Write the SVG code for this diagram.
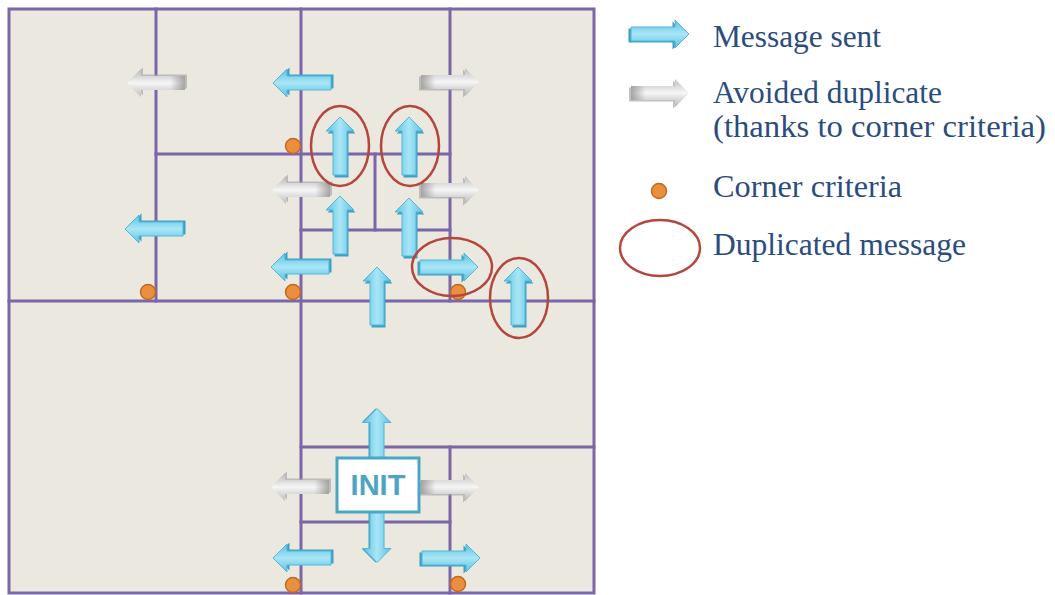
<svg xmlns="http://www.w3.org/2000/svg" xmlns:xlink="http://www.w3.org/1999/xlink" width="1055" height="595" viewBox="0 0 1055 595">
  <style>
    .grid { stroke: #7b66a8; stroke-width: 3; fill: none; stroke-linecap: square; }
    .corner { fill: #e98f3e; stroke: #c26a22; stroke-width: 1.5; }
    .dup { fill: none; stroke: #b5463e; stroke-width: 2.5; }
    .legend { font-family: "Liberation Serif", "Times New Roman", serif; font-size: 31px; fill: #2b4c7e; }
    .init-box { fill: #ffffff; stroke: #4aa6c6; stroke-width: 3; }
    .init-text { font-family: "Liberation Sans", Arial, sans-serif; font-weight: bold; font-size: 29px; fill: #4ea4c2; }
  </style>
  <defs>
    <linearGradient id="gBlue" x1="0" y1="0" x2="0" y2="1">
      <stop offset="0" stop-color="#5cc2e2"/>
      <stop offset="0.5" stop-color="#a9e6f6"/>
      <stop offset="1" stop-color="#5cc2e2"/>
    </linearGradient>
    <linearGradient id="gGray" x1="0" y1="0" x2="0" y2="1">
      <stop offset="0" stop-color="#bdbdbd"/>
      <stop offset="0.5" stop-color="#f6f6f6"/>
      <stop offset="1" stop-color="#b5b5b5"/>
    </linearGradient>
    <linearGradient id="gGrayTail" x1="0" y1="0" x2="1" y2="0">
      <stop offset="0" stop-color="#8c8c8c" stop-opacity="0.75"/>
      <stop offset="0.25" stop-color="#8c8c8c" stop-opacity="0"/>
      <stop offset="1" stop-color="#8c8c8c" stop-opacity="0"/>
    </linearGradient>
    <path id="shape" d="M0,-7 H44 V-14 L58,0 L44,14 V7 H0 Z"/>
    <g id="blueArrow">
      <use xlink:href="#shape" transform="translate(-2.5,1.5)" fill="#3d9fc2"/>
      <use xlink:href="#shape" fill="url(#gBlue)" stroke="#55b6d6" stroke-width="1"/>
    </g>
    <g id="grayArrow">
      <use xlink:href="#shape" transform="translate(-2,1.5)" fill="#a8a8a8" opacity="0.7"/>
      <use xlink:href="#shape" fill="url(#gGray)"/>
      <use xlink:href="#shape" fill="url(#gGrayTail)"/>
    </g>
    <path id="dblShape" d="M-77,0 L-63,-14 V-7 H63 V-14 L77,0 L63,14 V7 H-63 V14 Z"/>
  </defs>

  <rect width="1055" height="595" fill="#ffffff"/>

  <g id="grid">
    <rect x="9" y="9" width="585" height="584" fill="#ebe8df"/>
    <rect class="grid" x="9" y="9" width="585" height="584"/>
    <line class="grid" x1="9" y1="301" x2="594" y2="301"/>
    <line class="grid" x1="156" y1="9" x2="156" y2="301"/>
    <line class="grid" x1="301" y1="9" x2="301" y2="593"/>
    <line class="grid" x1="450" y1="9" x2="450" y2="301"/>
    <line class="grid" x1="156" y1="154" x2="450" y2="154"/>
    <line class="grid" x1="375" y1="154" x2="375" y2="230"/>
    <line class="grid" x1="301" y1="230" x2="450" y2="230"/>
    <line class="grid" x1="301" y1="447" x2="594" y2="447"/>
    <line class="grid" x1="450" y1="447" x2="450" y2="593"/>
    <line class="grid" x1="301" y1="522" x2="450" y2="522"/>
  </g>

  <g id="corners">
    <circle class="corner" cx="293" cy="146" r="7.5"/>
    <circle class="corner" cx="148" cy="292" r="7.5"/>
    <circle class="corner" cx="293" cy="292" r="7.5"/>
    <circle class="corner" cx="458" cy="292" r="7.5"/>
    <circle class="corner" cx="293" cy="585" r="7.5"/>
    <circle class="corner" cx="458" cy="584" r="7.5"/>
  </g>

  <g id="connectors">
    <!-- avoided duplicates (gray) -->
    <use xlink:href="#grayArrow" transform="translate(185,83) rotate(180)"/>
    <use xlink:href="#grayArrow" transform="translate(330,190) rotate(180)"/>
    <use xlink:href="#grayArrow" transform="translate(421,82)"/>
    <use xlink:href="#grayArrow" transform="translate(421,190)"/>
    <use xlink:href="#grayArrow" transform="translate(329,487) rotate(180)"/>
    <use xlink:href="#grayArrow" transform="translate(421,487)"/>
    <!-- messages sent (blue) -->
    <use xlink:href="#blueArrow" transform="translate(331,83) rotate(180)"/>
    <use xlink:href="#blueArrow" transform="translate(183,229) rotate(180)"/>
    <use xlink:href="#blueArrow" transform="translate(329,267) rotate(180)"/>
    <use xlink:href="#blueArrow" transform="translate(340,175) rotate(-90)"/>
    <use xlink:href="#blueArrow" transform="translate(409,175) rotate(-90)"/>
    <use xlink:href="#blueArrow" transform="translate(340,254) rotate(-90)"/>
    <use xlink:href="#blueArrow" transform="translate(409,256) rotate(-90)"/>
    <use xlink:href="#blueArrow" transform="translate(420,267)"/>
    <use xlink:href="#blueArrow" transform="translate(377,325) rotate(-90)"/>
    <use xlink:href="#blueArrow" transform="translate(518,325) rotate(-90)"/>
    <use xlink:href="#blueArrow" transform="translate(331,558) rotate(180)"/>
    <use xlink:href="#blueArrow" transform="translate(422,558)"/>
    <g id="init-vertical" transform="translate(377,485.5) rotate(90)">
      <use xlink:href="#dblShape" transform="translate(0,1.5)" fill="#3d9fc2"/>
      <use xlink:href="#dblShape" fill="url(#gBlue)" stroke="#55b6d6" stroke-width="1"/>
    </g>
  </g>

  <g id="duplicates">
    <ellipse class="dup" cx="340" cy="146" rx="29" ry="40"/>
    <ellipse class="dup" cx="410" cy="146" rx="29" ry="40"/>
    <ellipse class="dup" cx="452" cy="267" rx="40" ry="29"/>
    <ellipse class="dup" cx="519" cy="298" rx="29" ry="40"/>
  </g>

  <g id="init">
    <rect class="init-box" x="337" y="458" width="82" height="54"/>
    <text class="init-text" x="378" y="495" text-anchor="middle">INIT</text>
  </g>

  <g id="legend">
    <g id="legend-sent">
      <use xlink:href="#blueArrow" transform="translate(631,34)"/>
      <text class="legend" x="713" y="47" textLength="168" lengthAdjust="spacingAndGlyphs">Message sent</text>
    </g>
    <g id="legend-avoided">
      <use xlink:href="#grayArrow" transform="translate(631,93)"/>
      <text class="legend" x="713" y="103" textLength="229" lengthAdjust="spacingAndGlyphs">Avoided duplicate</text>
      <text class="legend" x="713" y="137" textLength="333" lengthAdjust="spacingAndGlyphs">(thanks to corner criteria)</text>
    </g>
    <g id="legend-corner">
      <circle class="corner" cx="659" cy="191" r="7.5"/>
      <text class="legend" x="713" y="197" textLength="189" lengthAdjust="spacingAndGlyphs">Corner criteria</text>
    </g>
    <g id="legend-dup">
      <ellipse class="dup" cx="660" cy="248" rx="40" ry="28"/>
      <text class="legend" x="713" y="255" textLength="253" lengthAdjust="spacingAndGlyphs">Duplicated message</text>
    </g>
  </g>
</svg>
